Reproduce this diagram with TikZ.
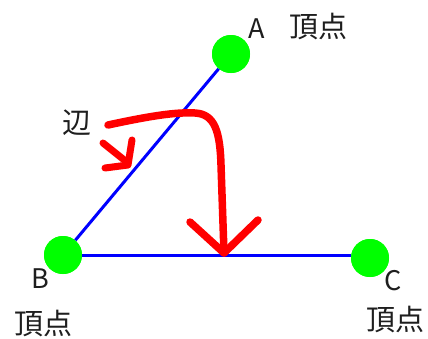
\documentclass[tikz,border=0pt]{standalone}
\usepackage{fontspec}
\setmainfont{Noto Sans CJK JP}
\begin{document}
\begin{tikzpicture}[x=1pt,y=-1pt,
  vertex/.style={circle,fill={rgb,255:red,0;green,255;blue,0},minimum size=38pt,inner sep=0pt},
  edge/.style={draw={rgb,255:red,0;green,0;blue,255},line width=3pt},
  redstroke/.style={draw={rgb,255:red,255;green,0;blue,0},line width=7.5pt,line cap=round,line join=round},
  lbl/.style={inner sep=0pt,font=\fontsize{27}{27}\selectfont,text={rgb,255:red,30;green,30;blue,30}},
  cjk/.style={inner sep=0pt,font=\fontsize{29}{29}\selectfont,text={rgb,255:red,30;green,30;blue,30}}]
\useasboundingbox (0,0) rectangle (428,338);
\node[vertex] (A) at (231,54) {};
\node[vertex] (B) at (63,255) {};
\node[vertex] (C) at (370,258) {};
\draw[edge] (A) -- (B);
\draw[edge] (B.east) -- (C.west |- B.east);
\node[vertex] at (A) {};
\node[vertex] at (B) {};
\node[vertex] at (C) {};
\node[lbl] (la) at (257,29) {A};
\node[lbl] (lb) at (40,279) {B};
\node[lbl] (lc) at (393,281) {C};
\node[cjk] (ta) at (318,27) {頂点};
\node[cjk] (tb) at (43,324) {頂点};
\node[cjk] (tc) at (395,320) {頂点};
\node[cjk] (side) at (77,123) {辺};
\coordinate (s0) at (108,125);
\coordinate (s1) at (195,113);
\coordinate (tip) at (224,253);
\coordinate (hl) at (190,222);
\coordinate (hr) at (258,220);
\draw[redstroke] (s0) .. controls (150,116) and (175,112) .. (s1) .. controls (215,114) and (220,132) .. (221,165) -- (tip);
\draw[redstroke] (hl) -- (tip) -- (hr);
\coordinate (m0) at (103,143);
\coordinate (m1) at (128,163);
\coordinate (m2) at (132,140);
\coordinate (m3) at (105,168);
\draw[redstroke,line width=7pt] (m0) -- (m1);
\draw[redstroke,line width=7pt] (m2) -- (128,165) -- (m3);
\end{tikzpicture}
\end{document}
